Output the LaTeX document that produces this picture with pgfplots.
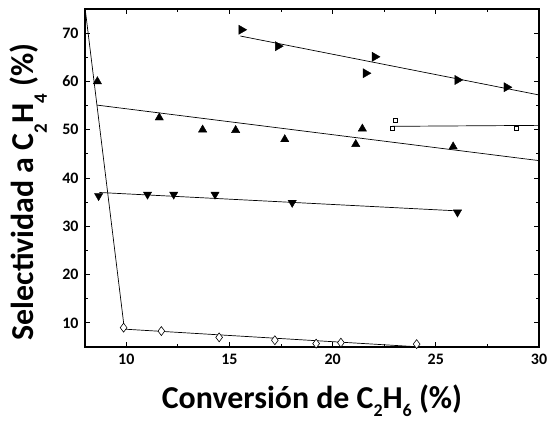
\documentclass[border=0pt]{standalone}
\usepackage{fontspec}
\setmainfont{Carlito}
\usepackage{pgfplots}
\pgfplotsset{compat=1.18}
\newcommand{\sub}[1]{\raisebox{-13bp}{\fontsize{19}{19}\selectfont #1}}
\newcommand{\subx}[1]{\raisebox{-8bp}{\fontsize{18}{18}\selectfont #1}}
\begin{document}
\begin{tikzpicture}
\begin{axis}[
 scale only axis, width=454bp, height=338bp,
 xmin=8, xmax=30, ymin=5, ymax=75,
 xtick={10,15,...,30}, ytick={10,20,...,70},
 minor x tick num=1, minor y tick num=1,
 tick align=inside, major tick length=5bp, minor tick length=3bp,
 axis line style={line width=1.1pt},
 every tick/.style={line width=0.8pt, black},
 ticklabel style={font=\fontsize{16}{18}\selectfont\bfseries},
 yticklabel style={xshift=-3bp},
 xticklabel style={yshift=-4bp},
 /pgf/number format/assume math mode=true,
 xlabel={Conversión de C\subx{2}H\subx{6} (\%)},
 ylabel={Selectividad a C\sub{2}H\sub{4} (\%)},
 label style={font=\fontsize{32}{34}\selectfont\bfseries},
 xlabel style={at={(axis description cs:0.5,0)}, anchor=base, yshift=-61bp},
 ylabel style={at={(axis description cs:0,0.5)}, anchor=base, yshift=51bp, xshift=-14bp},
]
% lines
\addplot[black, line width=0.7pt, no marks] coordinates {(15.53,69.4) (30,57.2)};
\addplot[black, line width=0.7pt, no marks] coordinates {(8.58,55.1) (30,43.6)};
\addplot[black, line width=0.7pt, no marks] coordinates {(22.9,50.7) (30,50.9)};
\addplot[black, line width=0.7pt, no marks] coordinates {(8.7,37.0) (26.0,33.2)};
\addplot[black, line width=0.7pt, no marks] coordinates {(9.9,8.7) (23.9,5.1)};
\addplot[black, line width=0.7pt, no marks] coordinates {(7.98,76) (9.9,9.0)};
% right triangles
\addplot[only marks, mark=triangle*, mark size=5.3pt, mark options={rotate=-90, fill=black, draw=black}] coordinates {
(15.58,70.7) (17.35,67.3) (22.04,65.1) (21.6,61.7) (26.05,60.3) (28.43,58.8)};
% up triangles
\addplot[only marks, mark=triangle*, mark size=4.8pt, mark options={fill=black, draw=black}] coordinates {
(8.6,60.0) (11.6,52.5) (13.7,50.0) (15.3,49.9) (17.68,48.0) (21.44,50.2) (21.12,47.0) (25.84,46.5)};
% open squares
\addplot[only marks, mark=square*, mark size=2pt, mark options={fill=white, draw=black, line width=0.6pt}] coordinates {
(23.03,51.9) (22.9,50.3) (28.9,50.3)};
% down triangles
\addplot[only marks, mark=triangle*, mark size=4.8pt, mark options={rotate=180, fill=black, draw=black}] coordinates {
(8.66,36.3) (11.03,36.6) (12.3,36.6) (14.3,36.6) (18.04,34.9) (26.05,32.9)};
% diamonds
\addplot[only marks, mark=diamond*, mark size=4.5pt, mark options={fill=white, draw=black, line width=0.6pt}] coordinates {
(9.87,9.0) (11.7,8.3) (14.5,7.0) (17.2,6.4) (19.2,5.7) (20.4,5.9) (24.07,5.6)};
\end{axis}
\pgfresetboundingbox
\useasboundingbox ([xshift=-85bp,yshift=-76bp]current axis.south west) rectangle ([xshift=10bp,yshift=9bp]current axis.north east);
\end{tikzpicture}
\end{document}
